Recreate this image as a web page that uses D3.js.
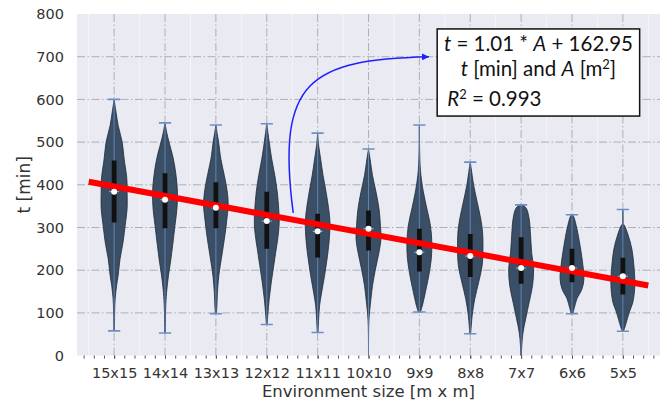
<!DOCTYPE html>
<html>
<head>
<meta charset="utf-8">
<script src="https://cdn.jsdelivr.net/npm/d3@7"></script>
<style>
  body { margin: 0; background: #fff; }
  svg { display: block; }
</style>
</head>
<body>
<div id="chart"></div>
<script>

// categories and per-violin summary values (t in minutes)
var categories = ["15x15","14x14","13x13","12x12","11x11","10x10","9x9","8x8","7x7","6x6","5x5"];
var mins    = [58, 53, 98, 73, 54, -20, 102, 51, -20, 98, 57];
var maxs    = [600, 545, 540, 543, 521, 484, 540, 453, 353, 330, 342];
var q1s     = [312, 298, 298, 250, 230, 246, 197, 184, 168, 172, 143];
var q3s     = [457, 427, 406, 384, 332, 340, 297, 285, 277, 250, 229];
var medians = [384, 365, 346, 315, 291, 297, 242, 233, 205, 205, 186];

// violin outlines: [t value, relative density width]
var densities = [
  [[600,0],[570,0.15],[539,0.31],[500,0.62],[461,0.77],[414,0.98],[383,1.0],[344,1.0],[305,0.85],[266,0.69],[227,0.46],[188,0.31],[164,0.19],[133,0.08],[102,0.04],[58,0.02]],
  [[545,0],[520,0.15],[500,0.31],[461,0.64],[422,0.85],[383,0.96],[344,0.92],[305,0.77],[266,0.62],[227,0.46],[188,0.27],[148,0.12],[109,0.05],[53,0.02]],
  [[540,0],[520,0.1],[500,0.21],[461,0.38],[422,0.65],[383,0.88],[352,0.95],[320,0.85],[289,0.73],[258,0.58],[227,0.42],[188,0.23],[148,0.12],[117,0.08],[98,0.04]],
  [[543,0],[520,0.1],[500,0.19],[461,0.38],[422,0.62],[383,0.81],[344,0.92],[312,0.96],[281,0.88],[250,0.73],[211,0.54],[172,0.35],[133,0.19],[94,0.08],[73,0.03]],
  [[521,0],[492,0.08],[461,0.23],[422,0.42],[383,0.65],[344,0.85],[313,0.95],[266,0.88],[227,0.73],[188,0.54],[148,0.31],[117,0.15],[86,0.08],[54,0.03]],
  [[484,0],[461,0.12],[422,0.31],[383,0.58],[344,0.81],[305,0.92],[273,0.96],[242,0.81],[203,0.54],[164,0.31],[133,0.19],[102,0.08],[70,0.02],[0,0]],
  [[540,0],[480,0.02],[445,0.06],[422,0.12],[383,0.31],[344,0.58],[305,0.85],[266,0.96],[227,0.92],[188,0.73],[148,0.46],[117,0.23],[102,0.08]],
  [[453,0],[437,0.08],[398,0.27],[359,0.54],[320,0.81],[289,0.95],[250,0.98],[211,0.92],[172,0.65],[133,0.35],[94,0.15],[70,0.08],[51,0.03]],
  [[353,0.1],[345,0.4],[320,0.62],[281,0.73],[242,0.81],[203,0.96],[164,0.88],[125,0.62],[86,0.35],[55,0.15],[23,0.05],[-20,0]],
  [[330,0.05],[324,0.15],[297,0.38],[258,0.62],[219,0.81],[180,0.92],[156,0.77],[133,0.38],[113,0.19],[98,0.06]],
  [[342,0],[309,0.02],[305,0.12],[281,0.42],[250,0.69],[211,0.85],[164,0.92],[125,0.77],[102,0.5],[78,0.27],[63,0.12],[57,0.04]]
];

// fitted trend line (category index, t)
var trendX = [-0.5, 10.5];
var trendT = [407, 164];

// annotation arrow (cubic bezier: start, ctrl1, ctrl2, end) and text box corners
var arrowPts = [[3.52, 334], [3.18, 646], [3.85, 693], [6.19, 700]];
var boxCorners = [[6.35, 765], [10.33, 561]];
var yTicks = [0, 100, 200, 300, 400, 500, 600, 700, 800];

var margin = {top: 14, right: 6, bottom: 44.4, left: 77}
  , W = 666, H = 400
  , width = W - margin.left - margin.right
  , height = H - margin.top - margin.bottom;

var xScale = d3.scaleLinear().domain([-0.73, 10.73]).range([0, width]);
var yScale = d3.scaleLinear().domain([0, 800]).range([height, 0]);
var wScale = d3.scaleLinear().domain([0, 1]).range([0, 0.255]); // density -> half width in category units

var svg = d3.select("#chart").append("svg")
    .attr("width", W)
    .attr("height", H);

var defs = svg.append("defs");
defs.append("clipPath").attr("id", "plotclip")
  .append("rect").attr("width", width).attr("height", height);
defs.append("marker")
    .attr("id", "arrowhead")
    .attr("viewBox", "0 0 10 10")
    .attr("refX", 10).attr("refY", 5)
    .attr("markerWidth", 7).attr("markerHeight", 7)
    .attr("markerUnits", "userSpaceOnUse")
    .attr("orient", "auto")
  .append("path").attr("d", "M0,0 L10,5 L0,10 Z").attr("fill", "#1f1fff");

var g = svg.append("g")
    .attr("transform", "translate(" + margin.left + "," + margin.top + ")");

g.append("rect")
    .attr("width", width)
    .attr("height", height)
    .attr("fill", "#eaeaf2");

// faint minor grid between categories
g.append("g").selectAll("line")
  .data(d3.range(-0.5, 11, 1))
  .join("line")
    .attr("x1", function(d) { return xScale(d); })
    .attr("x2", function(d) { return xScale(d); })
    .attr("y1", 0).attr("y2", height)
    .attr("stroke", "#ffffff").attr("stroke-opacity", 0.7).attr("stroke-width", 0.8);

// dash-dot major grid
var dash = "8,2.5,1.5,2.5";
g.append("g").selectAll("line")
  .data(yTicks.slice(1, -1))
  .join("line")
    .attr("x1", 0).attr("x2", width)
    .attr("y1", function(d) { return yScale(d); })
    .attr("y2", function(d) { return yScale(d); })
    .attr("stroke", "#aeaeb8").attr("stroke-width", 1)
    .attr("stroke-dasharray", dash);

g.append("g").selectAll("line")
  .data(d3.range(categories.length))
  .join("line")
    .attr("x1", function(d) { return xScale(d); })
    .attr("x2", function(d) { return xScale(d); })
    .attr("y1", 0).attr("y2", height)
    .attr("stroke", "#aeaeb8").attr("stroke-width", 1)
    .attr("stroke-dasharray", dash);

// axes
var xAxis = g.append("g")
    .attr("transform", "translate(0," + height + ")")
    .call(d3.axisBottom(xScale)
      .tickValues(d3.range(categories.length))
      .tickFormat(function(i) { return categories[i]; })
      .tickSize(3)
      .tickPadding(9.2));
xAxis.select(".domain").remove();
xAxis.selectAll("text").style("font-family", "DejaVu Sans").style("font-size", "14.5px").attr("fill", "#333");
xAxis.selectAll("line").attr("stroke", "#555");

var minor = g.append("g")
    .attr("transform", "translate(0," + height + ")")
    .call(d3.axisBottom(xScale)
      .tickValues(d3.range(-0.6, 10.7, 0.2))
      .tickFormat("")
      .tickSize(3));
minor.select(".domain").remove();
minor.selectAll("line").attr("stroke", "#555");

var yAxis = g.append("g")
    .call(d3.axisLeft(yScale).tickValues(yTicks).tickSize(0).tickPadding(13));
yAxis.select(".domain").remove();
yAxis.selectAll("text").style("font-family", "DejaVu Sans").style("font-size", "14.5px").attr("fill", "#333");

svg.append("text")
    .attr("x", margin.left + width / 2)
    .attr("y", 397)
    .attr("text-anchor", "middle")
    .style("font-family", "DejaVu Sans")
    .style("font-size", "16.5px")
    .attr("fill", "#333")
    .text("Environment size [m x m]");

svg.append("text")
    .attr("transform", "translate(30," + (margin.top + height / 2) + ") rotate(-90)")
    .attr("text-anchor", "middle")
    .style("font-family", "DejaVu Sans")
    .style("font-size", "17px")
    .attr("fill", "#333")
    .text("t [min]");

// violins
var plot = g.append("g").attr("clip-path", "url(#plotclip)");

densities.forEach(function(dens, i) {
  var area = d3.area()
      .y(function(d) { return yScale(d[0]); })
      .x0(function(d) { return xScale(i - wScale(d[1])); })
      .x1(function(d) { return xScale(i + wScale(d[1])); })
      .curve(d3.curveCatmullRom);
  plot.append("path")
      .attr("d", area(dens))
      .attr("fill", "#3a4f66")
      .attr("stroke", "#1f2b38")
      .attr("stroke-width", 0.8);

  var cx = xScale(i);
  // extrema bar and caps
  plot.append("line")
      .attr("x1", cx).attr("x2", cx)
      .attr("y1", yScale(mins[i])).attr("y2", yScale(maxs[i]))
      .attr("stroke", "#7193cc").attr("stroke-width", 1).attr("stroke-opacity", 0.75);
  [mins[i], maxs[i]].forEach(function(v) {
    plot.append("line")
        .attr("x1", xScale(i - 0.12)).attr("x2", xScale(i + 0.12))
        .attr("y1", yScale(v)).attr("y2", yScale(v))
        .attr("stroke", "#6d8fc8").attr("stroke-width", 1.6);
  });
  // IQR bar
  plot.append("line")
      .attr("x1", cx).attr("x2", cx)
      .attr("y1", yScale(q1s[i])).attr("y2", yScale(q3s[i]))
      .attr("stroke", "#111").attr("stroke-width", 4.8);
  // median tick
  plot.append("line")
      .attr("x1", xScale(i - 0.1)).attr("x2", xScale(i + 0.1))
      .attr("y1", yScale(medians[i])).attr("y2", yScale(medians[i]))
      .attr("stroke", "#8fa9d6").attr("stroke-width", 1);
});

// trend line
var line = d3.line()
    .x(function(d) { return xScale(d[0]); })
    .y(function(d) { return yScale(d[1]); });
plot.append("path")
    .attr("d", line(trendX.map(function(x, i) { return [x, trendT[i]]; })))
    .attr("stroke", "#ff0000")
    .attr("stroke-width", 6)
    .attr("fill", "none");

// median dots
plot.selectAll("circle.med")
  .data(medians)
  .join("circle")
    .attr("class", "med")
    .attr("cx", function(d, i) { return xScale(i); })
    .attr("cy", function(d) { return yScale(d); })
    .attr("r", 3)
    .attr("fill", "#fff");

// annotation arrow
var p = arrowPts.map(function(d) { return [xScale(d[0]), yScale(d[1])]; });
var ap = d3.path();
ap.moveTo(p[0][0], p[0][1]);
ap.bezierCurveTo(p[1][0], p[1][1], p[2][0], p[2][1], p[3][0], p[3][1]);
g.append("path")
    .attr("d", ap.toString())
    .attr("fill", "none")
    .attr("stroke", "#1f1fff")
    .attr("stroke-width", 1.5)
    .attr("marker-end", "url(#arrowhead)");

// equation box
var bx0 = xScale(boxCorners[0][0]), by0 = yScale(boxCorners[0][1]);
var bx1 = xScale(boxCorners[1][0]), by1 = yScale(boxCorners[1][1]);
g.append("rect")
    .attr("x", bx0).attr("y", by0)
    .attr("width", bx1 - bx0).attr("height", by1 - by0)
    .attr("fill", "#fff")
    .attr("stroke", "#111")
    .attr("stroke-width", 1.5);

var bcx = (bx0 + bx1) / 2;
var font = "Lato, 'Open Sans', sans-serif";

var t1 = g.append("text")
    .attr("x", bcx).attr("y", by0 + 22)
    .attr("text-anchor", "middle")
    .style("font-family", font).style("font-size", "20.5px").attr("fill", "#111");
t1.append("tspan").style("font-style", "italic").text("t");
t1.append("tspan").text(" = 1.01 * ");
t1.append("tspan").style("font-style", "italic").text("A");
t1.append("tspan").text(" + 162.95");

var t2 = g.append("text")
    .attr("x", bcx).attr("y", by0 + 47)
    .attr("text-anchor", "middle")
    .style("font-family", font).style("font-size", "20.5px").attr("fill", "#111");
t2.append("tspan").style("font-style", "italic").text("t");
t2.append("tspan").text(" [min] and ");
t2.append("tspan").style("font-style", "italic").text("A");
t2.append("tspan").text(" [m");
t2.append("tspan").attr("dy", -7).style("font-size", "13px").text("2");
t2.append("tspan").attr("dy", 7).text("]");

var t3 = g.append("text")
    .attr("x", bx0 + 10).attr("y", by0 + 77)
    .style("font-family", font).style("font-size", "20.5px").attr("fill", "#111");
t3.append("tspan").style("font-style", "italic").text("R");
t3.append("tspan").attr("dy", -7).style("font-size", "13px").text("2");
t3.append("tspan").attr("dy", 7).text(" = 0.993");

</script>
</body>
</html>
